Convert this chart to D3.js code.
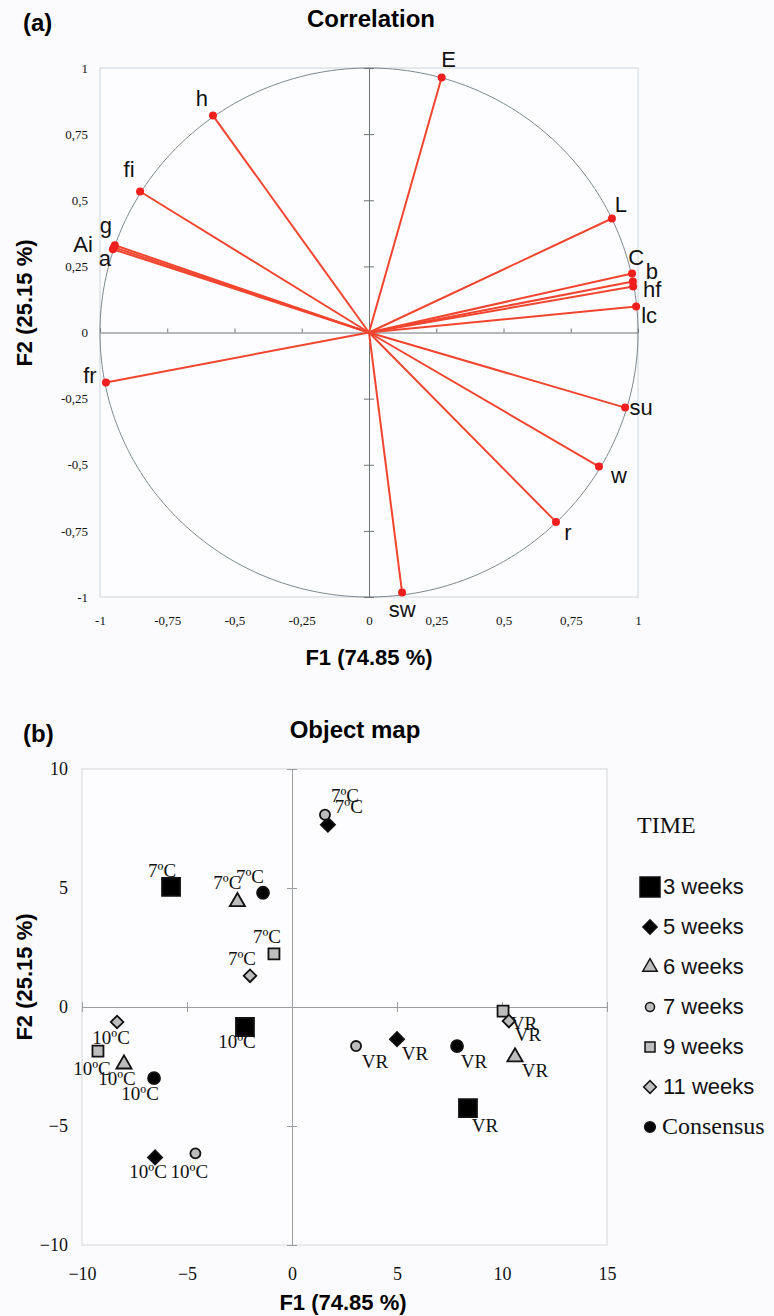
<html lang="en">
<head>
    <meta charset="UTF-8"/>
    <title>Correlation circle and object map</title>
    <script src="https://d3js.org/d3.v7.min.js"></script>
    <style>
        body { margin: 0; background-color: #fbfbfd; }
        svg { display: block; }
        .sans { font-family: "Liberation Sans", Arial, sans-serif; }
        .serif { font-family: "Liberation Serif", "Times New Roman", serif; }
    </style>
</head>
<body>
    <script>
        // ---- (a) correlation circle data ----
        var variables = ["E", "h", "fi", "g", "Ai", "a", "fr", "L", "C", "b", "hf", "lc", "su", "w", "r", "sw"];
        var f1Loadings = [0.27, -0.58, -0.851, -0.945, -0.948, -0.952, -0.978, 0.903, 0.978, 0.981, 0.982, 0.993, 0.952, 0.855, 0.695, 0.123];
        var f2Loadings = [0.964, 0.82, 0.533, 0.33, 0.322, 0.315, -0.189, 0.431, 0.223, 0.193, 0.174, 0.098, -0.284, -0.507, -0.716, -0.983];
        var corrTicks = [-1, -0.75, -0.5, -0.25, 0, 0.25, 0.5, 0.75, 1];

        // ---- (b) object map data ----
        var timeGroups = ["3 weeks", "5 weeks", "6 weeks", "7 weeks", "9 weeks", "11 weeks", "Consensus"];
        var storage = ["7ºC", "10ºC", "VR"];
        var f1_7C  = [-5.76, 1.71, -2.6, 1.57, -0.86, -2.0, -1.38];
        var f2_7C  = [5.05, 7.66, 4.42, 8.08, 2.23, 1.31, 4.8];
        var f1_10C = [-2.24, -6.52, -8.0, -4.6, -9.24, -8.33, -6.57];
        var f2_10C = [-0.84, -6.32, -2.4, -6.15, -1.85, -0.63, -2.99];
        var f1_VR  = [8.38, 5.0, 10.62, 3.05, 10.05, 10.33, 7.86];
        var f2_VR  = [-4.25, -1.35, -2.1, -1.64, -0.17, -0.59, -1.64];
        var mapTicksX = [-10, -5, 0, 5, 10, 15];
        var mapTicksY = [-10, -5, 0, 5, 10];

        // label nudges in px (layout only)
        var corrNudge = [[7,-11],[-11,-10],[-11,-15],[-9,-12],[-31,5],[-8,17],[-16,1],[9,-7],[4,-9],[19,-2],[19,11],[13,16],[16,7],[20,16],[12,18],[0,24]];
        var nudge7C  = [[-9,-10],[21,-12],[-10,-13],[20,-13],[-7,-11],[-8,-11],[-13,-10]];
        var nudge10C = [[-8,21],[-7,21],[-7,21],[-6,25],[-6,24],[-6,22],[-14,22]];
        var nudgeVR  = [[17,24],[18,21],[20,20],[19,22],[21,19],[19,20],[17,22]];

        var w = 774, h = 1316;
        var svg = d3.select("body").append("svg")
            .attr("width", w)
            .attr("height", h);

        // ================= (a) Correlation =================
        var xA = d3.scaleLinear().domain([-1, 1]).range([100, 638]);
        var yA = d3.scaleLinear().domain([-1, 1]).range([597, 68]);

        svg.append("text").attr("class", "sans")
            .attr("x", 23).attr("y", 31)
            .attr("font-size", 24).attr("font-weight", "bold")
            .text("(a)");
        svg.append("text").attr("class", "sans")
            .attr("x", 371).attr("y", 27)
            .attr("text-anchor", "middle")
            .attr("font-size", 24).attr("font-weight", "bold")
            .text("Correlation");

        svg.append("rect")
            .attr("x", xA(-1)).attr("y", yA(1))
            .attr("width", xA(1) - xA(-1)).attr("height", yA(-1) - yA(1))
            .attr("fill", "#fdfdff")
            .attr("stroke", "#cdd5dd");

        // unit circle
        var angles = d3.range(0, 361).map(function(a) { return a * Math.PI / 180; });
        svg.append("path")
            .datum(angles)
            .attr("fill", "none")
            .attr("stroke", "#7d888e")
            .attr("stroke-width", 1)
            .attr("d", d3.line()
                .x(function(a) { return xA(Math.cos(a)); })
                .y(function(a) { return yA(Math.sin(a)); }));

        // centre axes
        svg.append("g")
            .attr("transform", "translate(0," + yA(0) + ")")
            .call(d3.axisTop(xA).tickValues(corrTicks).tickSize(4).tickSizeOuter(0).tickFormat(""))
            .call(function(g) { g.selectAll("path, line").attr("stroke", "#6f7478"); });
        svg.append("g")
            .attr("transform", "translate(" + xA(0) + ",0)")
            .call(d3.axisLeft(yA).tickValues(corrTicks).tickSize(5).tickSizeOuter(0).tickFormat(""))
            .call(function(g) { g.selectAll("path, line").attr("stroke", "#6f7478"); });
        svg.append("g")
            .attr("transform", "translate(" + xA(0) + ",0)")
            .call(d3.axisRight(yA).tickValues(corrTicks).tickSize(5).tickSizeOuter(0).tickFormat(""))
            .call(function(g) { g.select(".domain").remove(); g.selectAll("line").attr("stroke", "#6f7478"); });

        // tick labels
        var commaFmt = function(d) { return String(d).replace(".", ","); };
        svg.append("g")
            .attr("class", "serif")
            .attr("transform", "translate(0," + yA(-1) + ")")
            .call(d3.axisBottom(xA).tickValues(corrTicks).tickSize(0).tickPadding(19).tickFormat(commaFmt))
            .call(function(g) {
                g.select(".domain").remove();
                g.selectAll("text").attr("font-size", 13).attr("fill", "#111").attr("font-family", null);
            });
        svg.append("g")
            .attr("class", "serif")
            .attr("transform", "translate(" + xA(-1) + ",0)")
            .call(d3.axisLeft(yA).tickValues(corrTicks).tickSize(0).tickPadding(12).tickFormat(commaFmt))
            .call(function(g) {
                g.select(".domain").remove();
                g.selectAll("text").attr("font-size", 13).attr("fill", "#111").attr("font-family", null);
            });

        // vectors
        var loadings = variables.map(function(v, i) {
            return { name: v, x: f1Loadings[i], y: f2Loadings[i], n: corrNudge[i] };
        });
        svg.selectAll(".vec")
            .data(loadings)
            .enter()
            .append("line")
            .attr("class", "vec")
            .attr("x1", xA(0)).attr("y1", yA(0))
            .attr("x2", function(d) { return xA(d.x); })
            .attr("y2", function(d) { return yA(d.y); })
            .attr("stroke", "#f2452f")
            .attr("stroke-width", 2);
        svg.selectAll(".vecdot")
            .data(loadings)
            .enter()
            .append("circle")
            .attr("class", "vecdot")
            .attr("cx", function(d) { return xA(d.x); })
            .attr("cy", function(d) { return yA(d.y); })
            .attr("r", 4)
            .attr("fill", "#ee1f1c");
        svg.selectAll(".veclab")
            .data(loadings)
            .enter()
            .append("text")
            .attr("class", "veclab sans")
            .attr("x", function(d) { return xA(d.x) + d.n[0]; })
            .attr("y", function(d) { return yA(d.y) + d.n[1]; })
            .attr("text-anchor", "middle")
            .attr("font-size", 22)
            .attr("fill", "#111")
            .text(function(d) { return d.name; });

        // axis titles
        svg.append("text").attr("class", "sans")
            .attr("x", 369).attr("y", 665)
            .attr("text-anchor", "middle")
            .attr("font-size", 22).attr("font-weight", "bold")
            .text("F1 (74.85 %)");
        svg.append("text").attr("class", "sans")
            .attr("transform", "translate(32,303) rotate(-90)")
            .attr("text-anchor", "middle")
            .attr("font-size", 22).attr("font-weight", "bold")
            .text("F2 (25.15 %)");

        // ================= (b) Object map =================
        var xB = d3.scaleLinear().domain([-10, 15]).range([82, 607]);
        var yB = d3.scaleLinear().domain([-10, 10]).range([1245, 769]);

        svg.append("text").attr("class", "sans")
            .attr("x", 23).attr("y", 742)
            .attr("font-size", 24).attr("font-weight", "bold")
            .text("(b)");
        svg.append("text").attr("class", "sans")
            .attr("x", 355).attr("y", 738)
            .attr("text-anchor", "middle")
            .attr("font-size", 24).attr("font-weight", "bold")
            .text("Object map");

        svg.append("rect")
            .attr("x", xB(-10)).attr("y", yB(10))
            .attr("width", xB(15) - xB(-10)).attr("height", yB(-10) - yB(10))
            .attr("fill", "#fdfdff")
            .attr("stroke", "#d4d6da");

        var crossTicks = function(g) {
            g.selectAll("path, line").attr("stroke", "#9a9ea3");
        };
        svg.append("g")
            .attr("transform", "translate(0," + yB(0) + ")")
            .call(d3.axisTop(xB).tickValues(mapTicksX).tickSize(5).tickSizeOuter(0).tickFormat(""))
            .call(crossTicks);
        svg.append("g")
            .attr("transform", "translate(0," + yB(0) + ")")
            .call(d3.axisBottom(xB).tickValues(mapTicksX).tickSize(5).tickSizeOuter(0).tickFormat(""))
            .call(function(g) { g.select(".domain").remove(); crossTicks(g); });
        svg.append("g")
            .attr("transform", "translate(" + xB(0) + ",0)")
            .call(d3.axisLeft(yB).tickValues(mapTicksY).tickSize(5).tickSizeOuter(0).tickFormat(""))
            .call(crossTicks);
        svg.append("g")
            .attr("transform", "translate(" + xB(0) + ",0)")
            .call(d3.axisRight(yB).tickValues(mapTicksY).tickSize(5).tickSizeOuter(0).tickFormat(""))
            .call(function(g) { g.select(".domain").remove(); crossTicks(g); });

        svg.append("g")
            .attr("class", "serif")
            .attr("transform", "translate(0," + yB(-10) + ")")
            .call(d3.axisBottom(xB).tickValues(mapTicksX).tickSize(0).tickPadding(22))
            .call(function(g) {
                g.select(".domain").remove();
                g.selectAll("text").attr("font-size", 18).attr("fill", "#111").attr("font-family", null);
            });
        svg.append("g")
            .attr("class", "serif")
            .attr("transform", "translate(" + xB(-10) + ",0)")
            .call(d3.axisLeft(yB).tickValues(mapTicksY).tickSize(0).tickPadding(14))
            .call(function(g) {
                g.select(".domain").remove();
                g.selectAll("text").attr("font-size", 18).attr("fill", "#111").attr("font-family", null);
            });

        // symbol per time group
        var symbolStyle = [
            { type: d3.symbolSquare, size: 324, rot: 0,  fill: "#000" },
            { type: d3.symbolSquare, size: 100, rot: 45, fill: "#000" },
            { type: d3.symbolTriangle, size: 100, rot: 0, fill: "#bdbdbd" },
            { type: d3.symbolCircle, size: 80, rot: 0,  fill: "#bdbdbd" },
            { type: d3.symbolSquare, size: 121, rot: 0, fill: "#bdbdbd" },
            { type: d3.symbolSquare, size: 80, rot: 45, fill: "#bdbdbd" },
            { type: d3.symbolCircle, size: 113, rot: 0, fill: "#000" }
        ];

        var objects = [];
        var sets = [[f1_7C, f2_7C, nudge7C], [f1_10C, f2_10C, nudge10C], [f1_VR, f2_VR, nudgeVR]];
        sets.forEach(function(s, k) {
            timeGroups.forEach(function(t, i) {
                objects.push({ group: i, label: storage[k], x: s[0][i], y: s[1][i], n: s[2][i] });
            });
        });

        svg.selectAll(".obj")
            .data(objects)
            .enter()
            .append("path")
            .attr("class", "obj")
            .attr("transform", function(d) {
                return "translate(" + xB(d.x) + "," + yB(d.y) + ") rotate(" + symbolStyle[d.group].rot + ")";
            })
            .attr("d", function(d) { return d3.symbol().type(symbolStyle[d.group].type).size(symbolStyle[d.group].size)(); })
            .attr("fill", function(d) { return symbolStyle[d.group].fill; })
            .attr("stroke", "#111")
            .attr("stroke-width", 1.8);

        svg.selectAll(".objlab")
            .data(objects)
            .enter()
            .append("text")
            .attr("class", "objlab serif")
            .attr("x", function(d) { return xB(d.x) + d.n[0]; })
            .attr("y", function(d) { return yB(d.y) + d.n[1]; })
            .attr("text-anchor", "middle")
            .attr("font-size", 19)
            .attr("fill", "#111")
            .text(function(d) { return d.label; });

        svg.append("text").attr("class", "sans")
            .attr("x", 343).attr("y", 1310)
            .attr("text-anchor", "middle")
            .attr("font-size", 22).attr("font-weight", "bold")
            .text("F1 (74.85 %)");
        svg.append("text").attr("class", "sans")
            .attr("transform", "translate(32,977) rotate(-90)")
            .attr("text-anchor", "middle")
            .attr("font-size", 22).attr("font-weight", "bold")
            .text("F2 (25.15 %)");

        // legend
        var legendSym = [
            { size: 400, rot: 0 }, { size: 100, rot: 45 }, { size: 90, rot: 0 },
            { size: 64, rot: 0 }, { size: 100, rot: 0 }, { size: 80, rot: 45 }, { size: 90, rot: 0 }
        ];
        svg.append("text").attr("class", "serif")
            .attr("x", 637).attr("y", 833)
            .attr("font-size", 24).attr("fill", "#111")
            .text("TIME");
        var legend = svg.selectAll(".leg")
            .data(timeGroups)
            .enter()
            .append("g")
            .attr("class", "leg")
            .attr("transform", function(d, i) { return "translate(650," + (887 + i * 40) + ")"; });
        legend.append("path")
            .attr("transform", function(d, i) { return "rotate(" + legendSym[i].rot + ")"; })
            .attr("d", function(d, i) { return d3.symbol().type(symbolStyle[i].type).size(legendSym[i].size)(); })
            .attr("fill", function(d, i) { return symbolStyle[i].fill; })
            .attr("stroke", "#111")
            .attr("stroke-width", 1.5);
        legend.append("text")
            .attr("class", function(d) { return d === "Consensus" ? "serif" : "sans"; })
            .attr("x", function(d) { return d === "Consensus" ? 12 : 13; })
            .attr("y", 7)
            .attr("font-size", function(d) { return d === "Consensus" ? 24 : 22; })
            .attr("fill", "#111")
            .text(function(d) { return d; });
    </script>
</body>
</html>
